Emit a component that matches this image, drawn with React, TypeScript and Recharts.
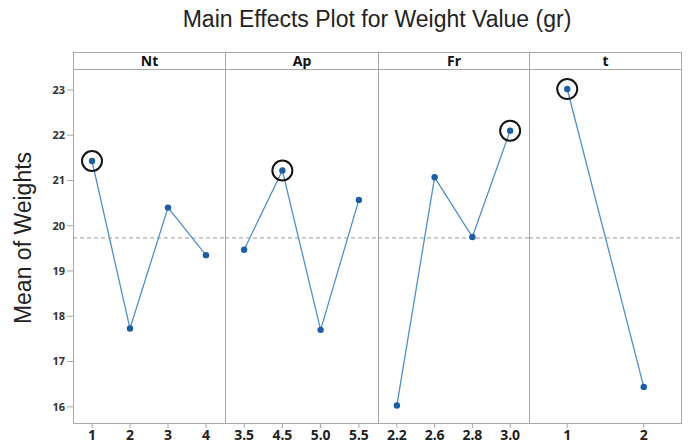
import { LineChart, Line, XAxis, YAxis, ReferenceLine } from 'recharts'

// factor levels and mean responses
const ntLevels = ['1', '2', '3', '4']
const ntMeans = [21.43, 17.73, 20.4, 19.35]
const apLevels = ['3.5', '4.5', '5.0', '5.5']
const apMeans = [19.47, 21.22, 17.7, 20.57]
const frLevels = ['2.2', '2.6', '2.8', '3.0']
const frMeans = [16.03, 21.07, 19.75, 22.1]
const tLevels = ['1', '2']
const tMeans = [23.02, 16.44]
const grandMean = 19.73
const yTicks = [16, 17, 18, 19, 20, 21, 22, 23]

const panels = [
    { name: 'Nt', levels: ntLevels, means: ntMeans },
    { name: 'Ap', levels: apLevels, means: apMeans },
    { name: 'Fr', levels: frLevels, means: frMeans },
    { name: 't', levels: tLevels, means: tMeans },
]

const EDGES = [73, 225, 378, 529, 682]
const TOP = 70
const HEAD_TOP = 52
const BOTTOM = 424
const H = 443
const FRAME = '#a8a8a8'
const LINE = '#4f8fd0'
const DOT = '#1a5ea8'
const yTickFont = { fontFamily: 'Noto Sans, sans-serif', fontSize: 11, fontWeight: 700, fill: '#333' }
const xTickFont = { fontFamily: 'Noto Sans, sans-serif', fontSize: 14, fontWeight: 700, fill: '#222' }

const makeDot = (maxVal: number) => (props: any) => {
    const { cx, cy, value, index } = props
    return (
        <g key={`d-${index}`}>
            {value === maxVal && <circle cx={cx} cy={cy} r={10} fill="none" stroke="#151515" strokeWidth={2} />}
            <circle cx={cx} cy={cy} r={3.2} fill={DOT} />
        </g>
    )
}

function Panel({ idx }: { idx: number }) {
    const p = panels[idx]
    const data = p.levels.map((l, i) => ({ level: l, mean: p.means[i] }))
    const maxVal = Math.max(...p.means)
    const w = EDGES[idx + 1] - EDGES[idx]
    const pad = w / (2 * p.levels.length)
    const first = idx === 0
    const left = first ? 0 : EDGES[idx]
    return (
        <div style={{ position: 'absolute', left, top: 0 }}>
            <LineChart
                width={first ? EDGES[1] : w}
                height={H}
                data={data}
                margin={{ top: TOP, right: 0, bottom: 0, left: 0 }}
            >
                <XAxis
                    dataKey="level"
                    height={H - BOTTOM}
                    padding={{ left: pad, right: pad }}
                    axisLine={false}
                    tickSize={4}
                    tickMargin={2}
                    tickLine={{ stroke: FRAME }}
                    tick={xTickFont}
                    interval={0}
                />
                <YAxis
                    hide={!first}
                    width={first ? EDGES[0] : 0}
                    domain={[15.62, 23.44]}
                    ticks={yTicks}
                    axisLine={false}
                    tickSize={6}
                    tickMargin={2}
                    tickLine={{ stroke: FRAME }}
                    tick={yTickFont}
                    allowDataOverflow
                />
                <ReferenceLine y={grandMean} stroke="#9a9a9a" strokeDasharray="4 3" strokeWidth={1} />
                <Line
                    dataKey="mean"
                    stroke={LINE}
                    strokeWidth={1.3}
                    dot={makeDot(maxVal)}
                    activeDot={false}
                    isAnimationActive={false}
                />
            </LineChart>
        </div>
    )
}

export default function App() {
    return (
        <div style={{ position: 'absolute', left: 0, top: 0, width: 688, height: H, background: '#fff', overflow: 'hidden' }}>
            <div style={{
                position: 'absolute', left: 377, top: 8, transform: 'translateX(-50%)', whiteSpace: 'nowrap',
                lineHeight: 1, fontFamily: 'Liberation Sans, Arial, sans-serif', fontSize: 23, color: '#222'
            }}>
                Main Effects Plot for Weight Value (gr)
            </div>
            <div style={{
                position: 'absolute', left: 23, top: 238, transform: 'translate(-50%, -50%) rotate(-90deg)',
                whiteSpace: 'nowrap', lineHeight: 1, fontFamily: 'Liberation Sans, Arial, sans-serif', fontSize: 23, color: '#222'
            }}>
                Mean of Weights
            </div>
            {/* panel frames and strip headers */}
            {panels.map((p, i) => (
                <div key={p.name}>
                    <div style={{
                        position: 'absolute', left: EDGES[i], top: HEAD_TOP, width: EDGES[i + 1] - EDGES[i],
                        height: TOP - HEAD_TOP, boxSizing: 'border-box', border: `1px solid ${FRAME}`,
                        borderRight: i === panels.length - 1 ? `1px solid ${FRAME}` : 'none',
                        textAlign: 'center', lineHeight: `${TOP - HEAD_TOP - 2}px`,
                        fontFamily: 'Noto Sans, sans-serif', fontSize: 14, fontWeight: 700, color: '#111'
                    }}>
                        {p.name}
                    </div>
                    <div style={{
                        position: 'absolute', left: EDGES[i], top: TOP - 1, width: EDGES[i + 1] - EDGES[i],
                        height: BOTTOM - TOP + 1, boxSizing: 'border-box', border: `1px solid ${FRAME}`,
                        borderRight: i === panels.length - 1 ? `1px solid ${FRAME}` : 'none'
                    }} />
                </div>
            ))}
            {panels.map((_, i) => <Panel key={i} idx={i} />)}
        </div>
    )
}
